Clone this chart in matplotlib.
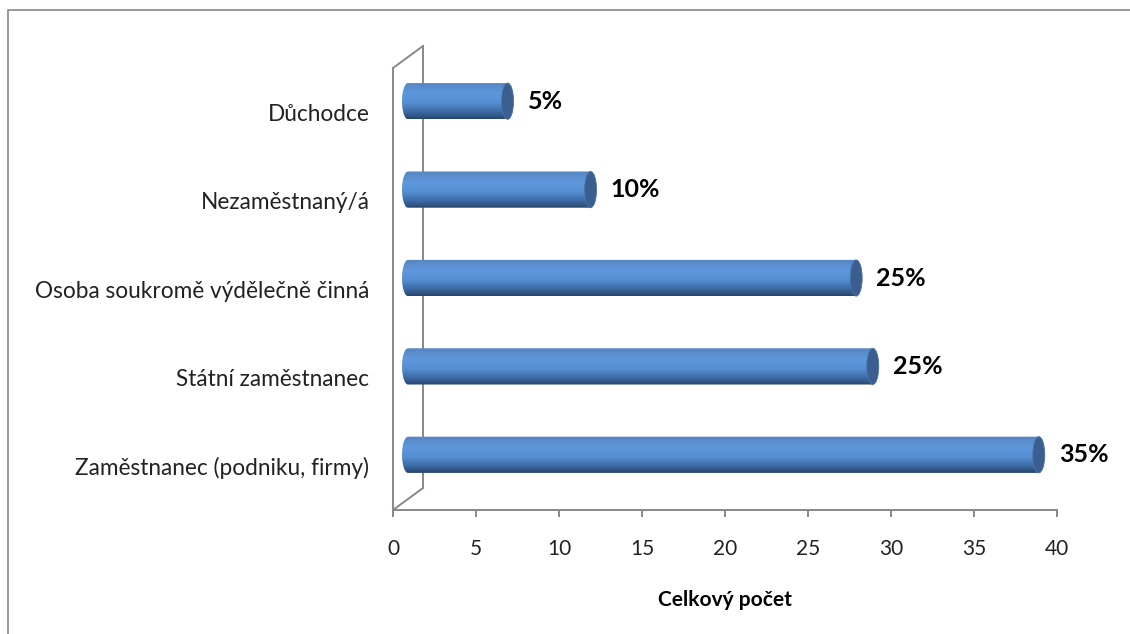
import matplotlib
matplotlib.use("Agg")
import matplotlib.pyplot as plt
import matplotlib.transforms as mtransforms
import numpy as np
from matplotlib.colors import LinearSegmentedColormap
from matplotlib.lines import Line2D
from matplotlib.patches import Ellipse, PathPatch, Rectangle
from matplotlib.path import Path

plt.rcParams["font.family"] = ["Lato", "DejaVu Sans"]

# Data (top to bottom as shown)
categories = [
    "Důchodce",
    "Nezaměstnaný/á",
    "Osoba soukromě výdělečně činná",
    "Státní zaměstnanec",
    "Zaměstnanec (podniku, firmy)",
]
counts = [6, 11, 27, 28, 38]
pct_labels = ["5%", "10%", "25%", "25%", "35%"]
xticks = [0, 5, 10, 15, 20, 25, 30, 35, 40]

GRAY = "#888888"

fig = plt.figure(figsize=(11.3, 6.34), dpi=100)
ax = fig.add_axes([393 / 1130, 1 - 510 / 634, 664 / 1130, 442 / 634])
ax.set_xlim(0, 40)
ax.set_ylim(-0.5, len(categories) - 0.5)

ypos = np.arange(len(categories))[::-1]

# bars sit half way into the 3D depth
depth = mtransforms.ScaledTranslation(0.15, 0.11, fig.dpi_scale_trans)
trans = ax.transData + depth

cmap = LinearSegmentedColormap.from_list(
    "cyl",
    [(0.0, "#5585c2"), (0.3, "#5e97db"), (0.55, "#5690d3"), (0.8, "#3e6ca6"), (1.0, "#28466e")],
)
grad = np.linspace(0, 1, 200).reshape(-1, 1)

h = 0.41   # bar thickness (data units)
a = 0.36   # half width of end caps (x data units)
for y, v in zip(ypos, counts):
    b = h / 2
    t = np.linspace(-np.pi / 2, -3 * np.pi / 2, 30)
    arc = np.column_stack([a * np.cos(t), y + b * np.sin(t)])
    verts = np.vstack([[[0, y + b], [v, y + b], [v, y - b], [0, y - b]], arc, [[0, y + b]]])
    codes = [Path.MOVETO] + [Path.LINETO] * (len(verts) - 2) + [Path.CLOSEPOLY]
    body = PathPatch(Path(verts, codes), transform=trans, facecolor="none", edgecolor="none")
    ax.add_patch(body)
    im = ax.imshow(grad, extent=(-a, v, y - b, y + b), aspect="auto", cmap=cmap,
                   origin="upper", interpolation="bilinear", transform=trans, zorder=2)
    im.set_clip_path(body)
    cap = Ellipse((v, y), width=2 * a, height=h, transform=trans,
                  facecolor="#395e8f", edgecolor="#4a73a6", lw=0.6, zorder=3)
    ax.add_patch(cap)

lab_trans = trans + mtransforms.ScaledTranslation(0.2, 0, fig.dpi_scale_trans)
for y, v, lab in zip(ypos, counts, pct_labels):
    ax.text(v, y, lab, transform=lab_trans, ha="left", va="center",
            fontsize=18, fontweight="bold", color="black")

ax.set_xlim(0, 40)
ax.set_ylim(-0.5, len(categories) - 0.5)

# axes styling
for s in ["left", "top", "right"]:
    ax.spines[s].set_visible(False)
ax.spines["bottom"].set_color(GRAY)
ax.spines["bottom"].set_linewidth(1.4)
ax.set_xticks(xticks)
ax.tick_params(axis="x", direction="out", length=5, width=1.4, color=GRAY,
               labelsize=15, pad=16, labelcolor="#222222")
ax.set_yticks(ypos, categories)
ax.tick_params(axis="y", length=0, labelsize=16.3, pad=17, labelcolor="#222222")
ax.set_xlabel("Celkový počet", fontsize=15, fontweight="bold", labelpad=22)

# 3D wall frame (behind the bars)
back = ax.transAxes + mtransforms.ScaledTranslation(0.30, 0.22, fig.dpi_scale_trans)
ax.plot([0, 0], [0, 1], transform=ax.transAxes, color=GRAY, lw=1.4, clip_on=False, zorder=1)
ax.plot([0, 0], [0, 1], transform=back, color=GRAY, lw=1.4, clip_on=False, zorder=1)
for yy in (0, 1):
    p0 = ax.transAxes.transform((0, yy))
    p1 = back.transform((0, yy))
    fig.add_artist(Line2D([p0[0], p1[0]], [p0[1], p1[1]], transform=None, color=GRAY, lw=1.4))

# outer chart border
fig.add_artist(Rectangle((8 / 1130, -0.1), 1.2, 1.1 - 10 / 634, transform=fig.transFigure,
                         fill=False, edgecolor=GRAY, lw=1.2))

fig.savefig("out.png", dpi=100, facecolor="white")
